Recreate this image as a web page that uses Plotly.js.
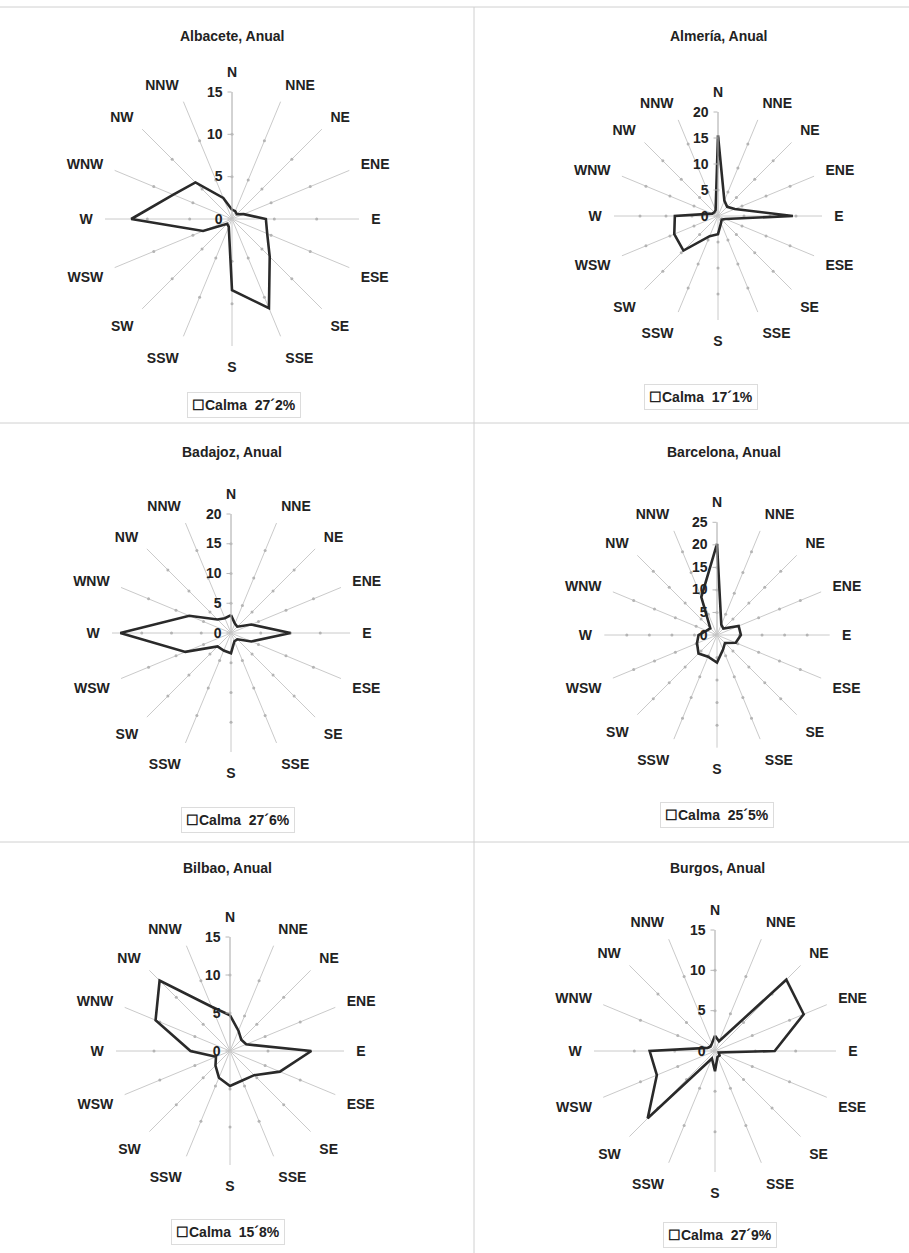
<!DOCTYPE html>
<html>
<head>
<meta charset="utf-8">
<script src="https://cdn.plot.ly/plotly-3.0.1.min.js"></script>
<style>html,body{margin:0;padding:0;background:#fff}#chart{width:909px;height:1253px}</style>
</head>
<body>
<div id="chart"></div>
<script>
// ---- data ----
const directions = ["N","NNE","NE","ENE","E","ESE","SE","SSE","S","SSW","SW","WSW","W","WNW","NW","NNW"];
const albacete  = [1.1, 1.0, 0.8, 1.5, 4.0, 4.5, 6.3, 11.4, 8.4, 1.0, 0.8, 3.7, 11.9, 7.5, 6.1, 2.7];
const almeria   = [15.5, 3.2, 2.5, 3.5, 14.4, 1.5, 1.0, 1.5, 3.5, 4.2, 9.4, 9.1, 8.3, 1.2, 1.0, 1.2];
const badajoz   = [3.0, 1.7, 1.5, 3.7, 10.0, 3.7, 1.5, 1.5, 3.4, 3.2, 3.2, 8.3, 18.6, 7.6, 3.2, 2.7];
const barcelona = [20.2, 2.5, 2.0, 5.2, 5.3, 4.5, 2.5, 3.5, 6.1, 5.2, 5.8, 4.8, 4.1, 2.5, 2.1, 9.1];
const bilbao    = [4.7, 2.9, 2.1, 2.3, 10.7, 7.1, 4.5, 4.2, 4.6, 3.8, 2.7, 2.0, 5.2, 10.6, 13.1, 6.3];
const burgos    = [1.9, 1.3, 12.5, 11.9, 7.4, 0.5, 0.8, 0.8, 2.5, 1.0, 11.8, 7.8, 8.1, 1.0, 0.8, 1.0];
const stationTitles = ["Albacete, Anual","Almería, Anual","Badajoz, Anual","Barcelona, Anual","Bilbao, Anual","Burgos, Anual"];
const calmaLabels = ["27´2%","17´1%","27´6%","25´5%","15´8%","27´9%"];
const radialMax = [15, 20, 20, 25, 15, 15];
const tickStep = [5, 5, 5, 5, 5, 5];
const seriesList = [albacete, almeria, badajoz, barcelona, bilbao, burgos];

// ---- layout geometry (px) ----
const W = 909, H = 1253;
const centers = [[232,219],[718,216],[231,633],[717,635],[230,1051],[715,1051]];
const radii = [127, 104, 119, 112.7, 114, 121];
const titlePos = [[232,36],[719,36],[232,452],[724,452],[228,868],[717,868]];
const legendPos = [[244,405],[701,397],[238,820],[717,815],[228,1232],[720,1235]];

const fontFam = "Liberation Sans, Arial, sans-serif";
const txtColor = "#222";
const traces = [];
const layout = {
  width: W, height: H,
  margin: {l:0, r:0, t:0, b:0},
  paper_bgcolor: "#fff",
  showlegend: false,
  annotations: [],
  shapes: []
};

seriesList.forEach((vals, i) => {
  const pid = i === 0 ? "polar" : "polar" + (i+1);
  const [cx, cy] = centers[i];
  const R = radii[i];
  const ticks = [];
  for (let t = 0; t <= radialMax[i]; t += tickStep[i]) ticks.push(t);

  // spoke tick dots
  const dr = [], dt = [];
  directions.forEach(d => {
    ticks.forEach(t => { if (t > 0 && t < radialMax[i]) { dr.push(t); dt.push(d); } });
  });
  traces.push({
    type: "scatterpolar", subplot: pid, mode: "markers",
    r: dr, theta: dt,
    marker: {size: 3, color: "#b4b4b4"},
    hoverinfo: "skip"
  });
  // main polygon
  traces.push({
    type: "scatterpolar", subplot: pid, mode: "lines",
    r: vals.concat([vals[0]]), theta: directions.concat([directions[0]]),
    line: {color: "#2a2a2a", width: 2.6},
    hoverinfo: "r+theta"
  });

  layout[pid] = {
    domain: {
      x: [(cx - R) / W, (cx + R) / W],
      y: [1 - (cy + R) / H, 1 - (cy - R) / H]
    },
    bgcolor: "rgba(0,0,0,0)",
    radialaxis: {
      range: [0, radialMax[i]],
      tickvals: ticks,
      angle: 90,
      side: "counterclockwise",
      tickangle: 90,
      showgrid: false,
      showline: true,
      linecolor: "#c0c0c0",
      linewidth: 1,
      ticks: "outside",
      ticklen: 4,
      tickcolor: "#b8b8b8",
      tickfont: {family: fontFam, size: 14, color: txtColor, weight: "bold"}
    },
    angularaxis: {
      type: "category",
      categoryarray: directions,
      direction: "clockwise",
      rotation: 90,
      showline: false,
      showgrid: true,
      gridcolor: "#cacaca",
      gridwidth: 1,
      ticks: "outside",
      ticklen: 9,
      tickcolor: "rgba(0,0,0,0)",
      tickfont: {family: fontFam, size: 14, color: txtColor, weight: "bold"}
    }
  };

  layout.annotations.push({
    xref: "paper", yref: "paper", xanchor: "center", yanchor: "middle",
    x: titlePos[i][0] / W, y: 1 - titlePos[i][1] / H,
    text: stationTitles[i], showarrow: false,
    font: {family: fontFam, size: 14, color: txtColor, weight: "bold"}
  });
  layout.annotations.push({
    xref: "paper", yref: "paper", xanchor: "center", yanchor: "middle",
    x: legendPos[i][0] / W, y: 1 - legendPos[i][1] / H,
    text: "☐Calma  " + calmaLabels[i], showarrow: false,
    font: {family: fontFam, size: 14, color: txtColor, weight: "bold"},
    bordercolor: "#dcdcdc", borderwidth: 1, borderpad: 4, bgcolor: "#fff"
  });
});

// panel dividers
const lineStyle = {color: "#d0d0d0", width: 1};
layout.shapes.push({type:"line", xref:"paper", yref:"paper", x0:0, x1:1, y0:1-7/H, y1:1-7/H, line: lineStyle});
layout.shapes.push({type:"line", xref:"paper", yref:"paper", x0:474/W, x1:474/W, y0:0, y1:1-7/H, line: lineStyle});
layout.shapes.push({type:"line", xref:"paper", yref:"paper", x0:0, x1:1, y0:1-423/H, y1:1-423/H, line: lineStyle});
layout.shapes.push({type:"line", xref:"paper", yref:"paper", x0:0, x1:1, y0:1-842/H, y1:1-842/H, line: lineStyle});

Plotly.newPlot("chart", traces, layout, {staticPlot: true, displayModeBar: false});
</script>
</body>
</html>
